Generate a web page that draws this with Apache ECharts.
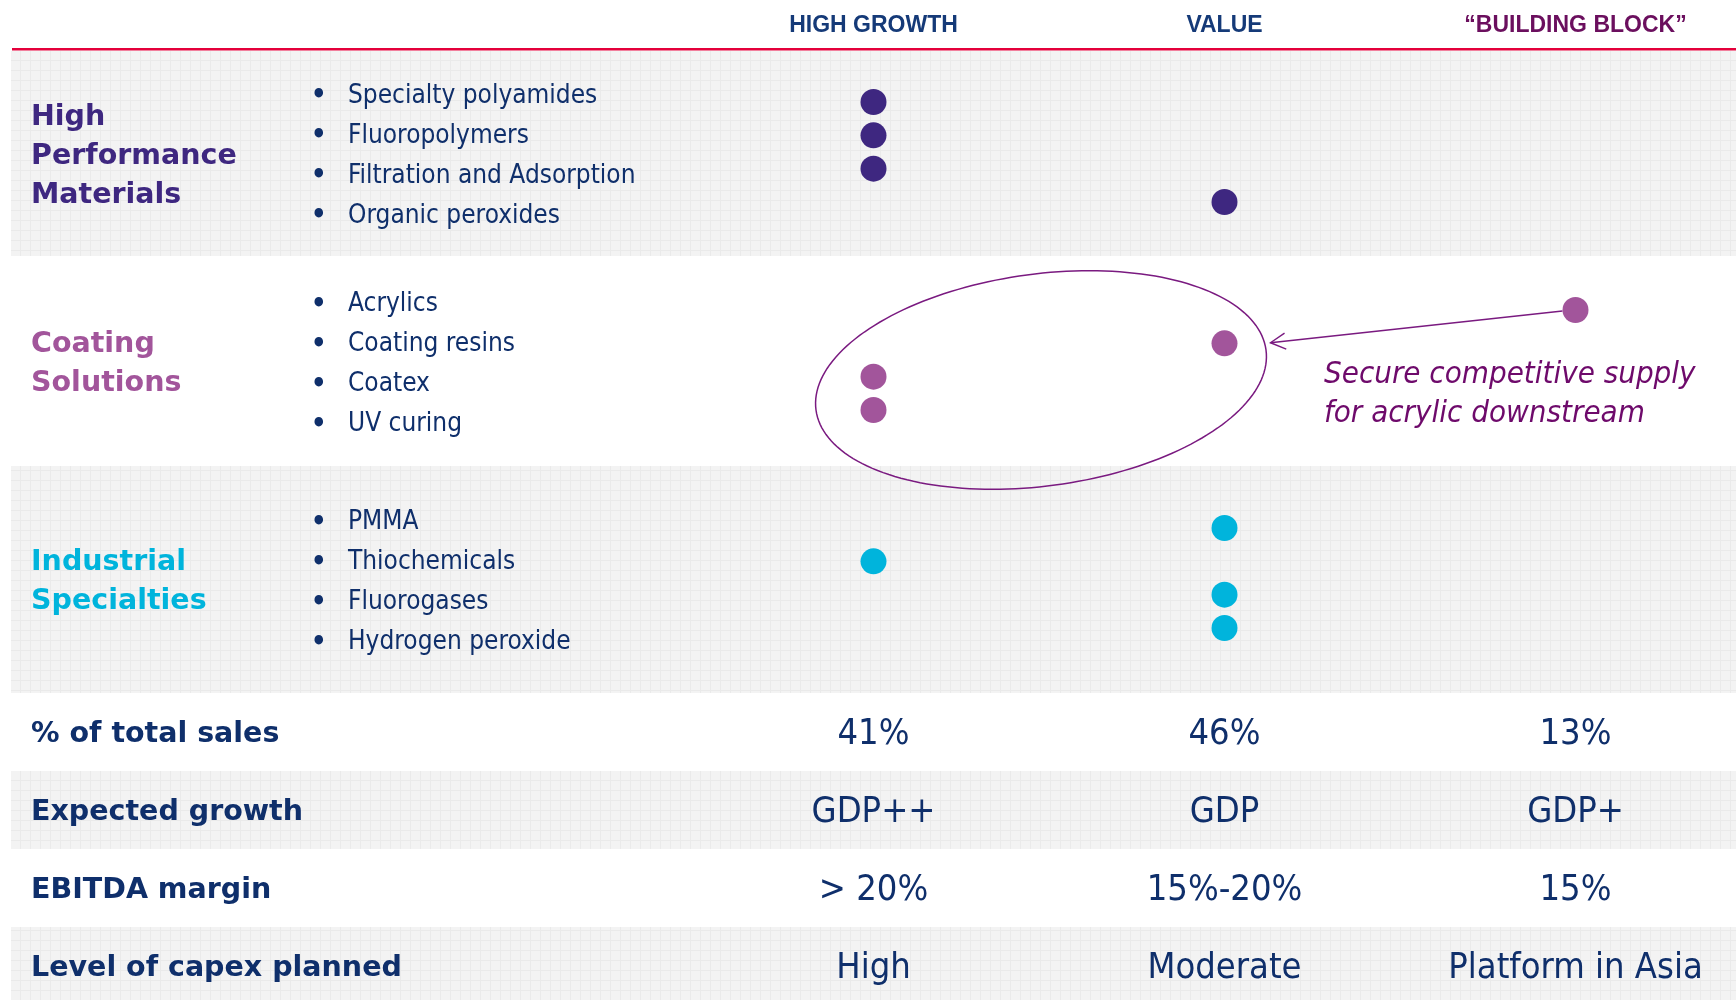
<!DOCTYPE html>
<html>
<head>
<meta charset="utf-8">
<script src="https://cdn.jsdelivr.net/npm/echarts@6/dist/echarts.min.js"></script>
<style>
html,body{margin:0;padding:0;background:#fff;}
#c{width:1736px;height:1000px;}
</style>
</head>
<body>
<div id="c"></div>
<script>
// ---------- DATA ----------
const columns = ['HIGH GROWTH', 'VALUE', '\u201CBUILDING BLOCK\u201D'];
const segmentNames = ['High\nPerformance\nMaterials', 'Coating\nSolutions', 'Industrial\nSpecialties'];
const hpmProducts = ['Specialty polyamides', 'Fluoropolymers', 'Filtration and Adsorption', 'Organic peroxides'];
const hpmColumn = ['HIGH GROWTH', 'HIGH GROWTH', 'HIGH GROWTH', 'VALUE'];
const coatingProducts = ['Acrylics', 'Coating resins', 'Coatex', 'UV curing'];
const coatingColumn = ['\u201CBUILDING BLOCK\u201D', 'VALUE', 'HIGH GROWTH', 'HIGH GROWTH'];
const industrialProducts = ['PMMA', 'Thiochemicals', 'Fluorogases', 'Hydrogen peroxide'];
const industrialColumn = ['VALUE', 'HIGH GROWTH', 'VALUE', 'VALUE'];
const metrics = ['% of total sales', 'Expected growth', 'EBITDA margin', 'Level of capex planned'];
const salesShare = [41, 46, 13];
const expectedGrowth = ['GDP++', 'GDP', 'GDP+'];
const ebitdaMargin = ['> 20%', '15%-20%', '15%'];
const capexPlanned = ['High', 'Moderate', 'Platform in Asia'];
const annotationText = 'Secure competitive supply\nfor acrylic downstream';

// ---------- STYLE / LAYOUT ----------
const navy = '#0F2F6B';
const headNavy = '#153A78';
const blockPurple = '#6B0F5E';
const segColors = ['#3E2780', '#A2559B', '#00B4DC'];
const annotColor = '#7A1A80';
const fReg = "'DejaVu Sans Condensed', 'DejaVu Sans', sans-serif";
const fBold = "'DejaVu Sans', sans-serif";
const fHead = "'Liberation Sans', Arial, sans-serif";

const gridLeft = 873.5, gridWidth = 702;
const segTops = [76, 284.5, 502.5], segH = 160;
const bandEdges = [51, 256, 466, 693];
const tableTop = 693, rowH = 78;
const tableFirstRowCenter = 734.5;
const bandLeft = 11, bandRight = 1736;

const segments = [
  { products: hpmProducts, cols: hpmColumn },
  { products: coatingProducts, cols: coatingColumn },
  { products: industrialProducts, cols: industrialColumn }
];
const tableValues = [salesShare.map(v => v + '%'), expectedGrowth, ebitdaMargin, capexPlanned];

// ---------- OPTION ----------
const grid = segTops.map(t => ({ left: gridLeft, top: t, width: gridWidth, height: segH }));
grid.push({ left: gridLeft, top: tableFirstRowCenter, width: gridWidth, height: rowH * 3 });

const headRich = c => ({ color: c, fontSize: 23, fontWeight: 'bold', fontFamily: fHead, lineHeight: 23 });
const xAxis = grid.map((g, i) => ({
  type: 'category', gridIndex: i, data: columns, boundaryGap: false,
  position: 'top', show: i === 0,
  axisLine: { show: false }, axisTick: { show: false }, splitLine: { show: false },
  axisLabel: i === 0 ? {
    interval: 0, margin: 39,
    formatter: (v, k) => '{h' + k + '|' + v + '}',
    rich: { h0: headRich(headNavy), h1: headRich(headNavy), h2: headRich(blockPurple) }
  } : { show: false }
}));

const yAxis = [];
segments.forEach((s, i) => {
  yAxis.push({
    type: 'category', gridIndex: i, inverse: true, data: s.products,
    axisLine: { show: false }, axisTick: { show: false }, splitLine: { show: false },
    axisLabel: {
      interval: 0, align: 'left', margin: gridLeft - 311,
      formatter: v => '{b|\u2022}{t|' + v + '}',
      rich: {
        b: { width: 37, fontSize: 27, fontWeight: 'bold', color: navy, fontFamily: fReg },
        t: { fontSize: 26, color: navy, fontFamily: fReg }
      }
    }
  });
  yAxis.push({ type: 'value', gridIndex: i, inverse: true, min: -0.78 + (i === 0 ? 0 : 0.015), max: 4.02 + (i === 0 ? 0 : 0.015), show: false, splitLine: { show: false } });
});
yAxis.push({
  type: 'category', gridIndex: 3, inverse: true, data: metrics, boundaryGap: false,
  axisLine: { show: false }, axisTick: { show: false }, splitLine: { show: false },
  axisLabel: { interval: 0, align: 'left', margin: gridLeft - 31, fontSize: 28.5, fontWeight: 'bold', color: navy, fontFamily: fBold }
});

const series = segments.map((s, i) => ({
  type: 'scatter', xAxisIndex: i, yAxisIndex: 2 * i + 1,
  symbol: 'circle', symbolSize: 26, z: 5, clip: false,
  itemStyle: { color: segColors[i], opacity: 1 },
  data: s.products.map((p, k) => ({ name: p, value: [s.cols[k], k] }))
}));
const tableData = [];
tableValues.forEach((row, r) => row.forEach((txt, c) => tableData.push({ name: txt, value: [c, r] })));
series.push({
  type: 'scatter', xAxisIndex: 3, yAxisIndex: 6, symbolSize: 2, clip: false,
  itemStyle: { color: 'rgba(255,255,255,0)', opacity: 1 },
  label: { show: true, position: 'inside', formatter: '{b}', fontSize: 36, color: navy, fontFamily: fReg, opacity: 1 },
  data: tableData
});

const chart = echarts.init(document.getElementById('c'), null, { renderer: 'canvas' });
chart.setOption({ animation: false, backgroundColor: '#ffffff', grid, xAxis, yAxis, series });

// ---------- DECORATION ----------
const pc = document.createElement('canvas');
pc.width = 10; pc.height = 10;
const g2 = pc.getContext('2d');
g2.fillStyle = '#F3F3F3'; g2.fillRect(0, 0, 10, 10);
g2.fillStyle = '#EAEAEA'; g2.fillRect(0, 0, 10, 1); g2.fillRect(0, 0, 1, 10);
const bandFill = { image: pc, repeat: 'repeat' };

const px = (gi, val) => chart.convertToPixel({ xAxisIndex: gi, yAxisIndex: 2 * gi + 1 }, val);

const graphics = [];
const grayBands = [[bandEdges[0], bandEdges[1]], [bandEdges[2], bandEdges[3]],
  [tableTop + rowH, tableTop + 2 * rowH], [tableTop + 3 * rowH, tableTop + 4 * rowH]];
grayBands.forEach(([a, b]) => graphics.push({
  type: 'rect', z: -10, silent: true,
  shape: { x: bandLeft, y: a, width: bandRight - bandLeft, height: b - a },
  style: { fill: bandFill }
}));
graphics.push({
  type: 'line', z: 1, silent: true,
  shape: { x1: 12, y1: 49.2, x2: 1736, y2: 49.2 },
  style: { stroke: '#E4003B', lineWidth: 2.6 }
});
segmentNames.forEach((n, i) => graphics.push({
  type: 'text', z: 2, silent: true, x: 31, y: [156.5, 364.5, 582.5][i],
  style: { text: n, fill: segColors[i], fontSize: 28.5, fontWeight: 'bold', fontFamily: fBold,
    lineHeight: 39, align: 'left', verticalAlign: 'middle' }
}));

// ellipse around the coating solutions dots
const pA = px(1, ['HIGH GROWTH', 2]);
const pB = px(1, ['VALUE', 1]);
const cx = (pA[0] + pB[0]) / 2 - 8, cy = (pA[1] + pB[1]) / 2 + 20;
const ea = 227, eb = 106, tilt = 7.6 * Math.PI / 180;
const ell = [];
for (let k = 0; k < 180; k++) {
  const t = k / 180 * Math.PI * 2;
  ell.push([cx + ea * Math.cos(t) * Math.cos(tilt) - eb * Math.sin(t) * Math.sin(tilt),
            cy - (ea * Math.cos(t) * Math.sin(tilt) + eb * Math.sin(t) * Math.cos(tilt))]);
}
graphics.push({ type: 'polygon', z: 4, silent: true, shape: { points: ell },
  style: { fill: 'none', stroke: annotColor, lineWidth: 1.5 } });

// arrow from building-block dot to the ellipse
const pC = px(1, [columns[2], 0]);
const targetY = pB[1] - 2;
let onEll = ell[0], best = 1e9;
ell.forEach(p => { if (p[0] > cx && Math.abs(p[1] - targetY) < best) { best = Math.abs(p[1] - targetY); onEll = p; } });
const tip = [onEll[0] + 6, onEll[1]];
const start = [pC[0] - 13, pC[1] + 1];
const dx = start[0] - tip[0], dy = start[1] - tip[1], len = Math.hypot(dx, dy);
const ux = dx / len, uy = dy / len, wl = 17, wa = 28 * Math.PI / 180;
const rot = (ang) => [tip[0] + wl * (ux * Math.cos(ang) - uy * Math.sin(ang)), tip[1] + wl * (ux * Math.sin(ang) + uy * Math.cos(ang))];
graphics.push({ type: 'line', z: 4, silent: true, shape: { x1: start[0], y1: start[1], x2: tip[0], y2: tip[1] },
  style: { stroke: annotColor, lineWidth: 1.4 } });
graphics.push({ type: 'polyline', z: 4, silent: true, shape: { points: [rot(wa), tip, rot(-wa)] },
  style: { stroke: annotColor, lineWidth: 1.4, fill: 'none' } });

graphics.push({
  type: 'text', z: 4, silent: true, x: 1324, y: 394.5,
  style: { text: annotationText, fill: '#6E0A6B', fontSize: 31, fontStyle: 'italic', fontFamily: fReg,
    lineHeight: 39, align: 'left', verticalAlign: 'middle' }
});

chart.setOption({ graphic: graphics });
</script>
</body>
</html>
